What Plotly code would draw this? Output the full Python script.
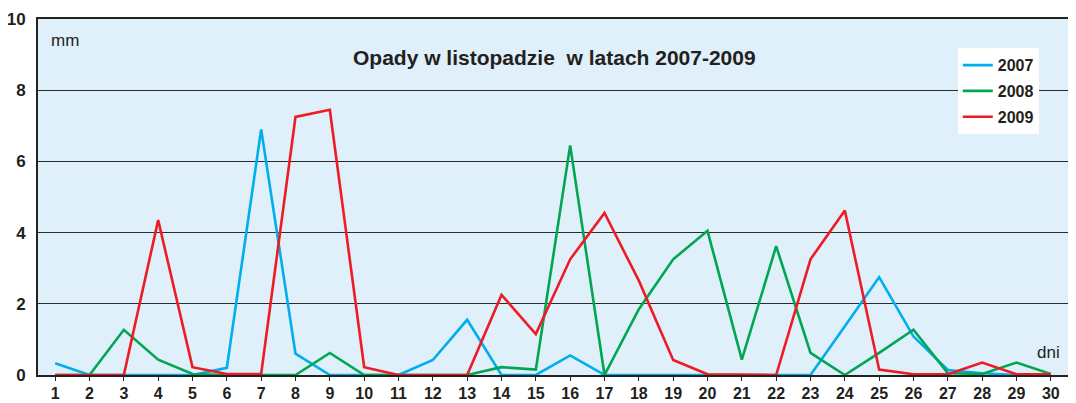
import plotly.graph_objects as go

days = list(range(1, 31))

opady_2007 = [0.33, 0, 0, 0, 0, 0.2, 6.9, 0.6, 0, 0,
              0, 0.42, 1.55, 0, 0, 0.55, 0, 0, 0, 0,
              0, 0, 0, 1.37, 2.75, 1.08, 0.14, 0.05, 0, 0]
opady_2008 = [0, 0, 1.27, 0.43, 0.03, 0, 0, 0, 0.62, 0,
              0, 0, 0, 0.22, 0.15, 6.45, 0, 1.85, 3.25, 4.05,
              0.43, 3.62, 0.62, 0, 0.62, 1.27, 0.05, 0.03, 0.35, 0.03]
opady_2009 = [0, 0, 0, 4.35, 0.22, 0.03, 0.03, 7.25, 7.45, 0.22,
              0, 0, 0, 2.25, 1.15, 3.25, 4.55, 2.65, 0.42, 0.02,
              0, 0, 3.25, 4.62, 0.15, 0.02, 0.02, 0.35, 0.02, 0.02]

series = [("2007", opady_2007, "#00AEEF"),
          ("2008", opady_2008, "#00A651"),
          ("2009", opady_2009, "#ED1C24")]

font = "Liberation Sans, Arial, sans-serif"
dark = "#231F20"

fig = go.Figure()
# 2009 drawn last so it sits on top, as in the original
for name, vals, col in series:
    fig.add_trace(go.Scatter(x=days, y=vals, name=name, mode="lines",
                             legendgroup=name,
                             line=dict(color=col, width=2.6)))

# page body has an 8px margin, so the figure is a bit smaller than the window
fig.update_layout(
    width=1068, height=395,
    margin=dict(l=30, r=8, t=11, b=28, autoexpand=False),
    paper_bgcolor="white",
    plot_bgcolor="#DFF0FA",
    font=dict(family=font, color=dark),
    showlegend=True,
    legend=dict(x=0.893, y=0.918, xanchor="left", yanchor="top",
                bgcolor="white", borderwidth=0,
                font=dict(size=16, color=dark, family=font, weight="bold"),
                itemwidth=30, tracegroupgap=2),
    annotations=[
        dict(text="<b>Opady w listopadzie  w latach 2007-2009</b>", x=0.501, y=0.893,
             xref="paper", yref="paper", yanchor="middle", showarrow=False,
             font=dict(size=21, color=dark)),
        dict(text="mm", x=0.011, y=0.941, xref="paper", yref="paper",
             xanchor="left", yanchor="middle", showarrow=False,
             font=dict(size=17, color=dark)),
        dict(text="dni", x=0.994, y=0.03, xref="paper", yref="paper",
             xanchor="right", yanchor="bottom", showarrow=False,
             font=dict(size=17, color=dark)),
    ],
)

fig.update_xaxes(
    range=[0.5, 30.5], tickmode="array", tickvals=days,
    ticktext=[str(d) for d in days],
    showgrid=False, zeroline=False, automargin=False,
    showline=True, linecolor="#222", linewidth=2, mirror=True,
    ticks="outside", ticklen=4, tickcolor="#222",
    tickson="boundaries", ticklabelstandoff=-1,
    tickfont=dict(size=16, color=dark, family=font, weight="bold"),
)
fig.update_yaxes(
    range=[0, 10], dtick=2,
    showgrid=True, gridcolor="#2b2b2b", gridwidth=1.4,
    zeroline=False, automargin=False,
    showline=True, linecolor="#222", linewidth=2, mirror=True,
    ticks="", ticklabelstandoff=7,
    tickfont=dict(size=17, color=dark, family=font, weight="bold"),
)

fig.write_html("out.html")
